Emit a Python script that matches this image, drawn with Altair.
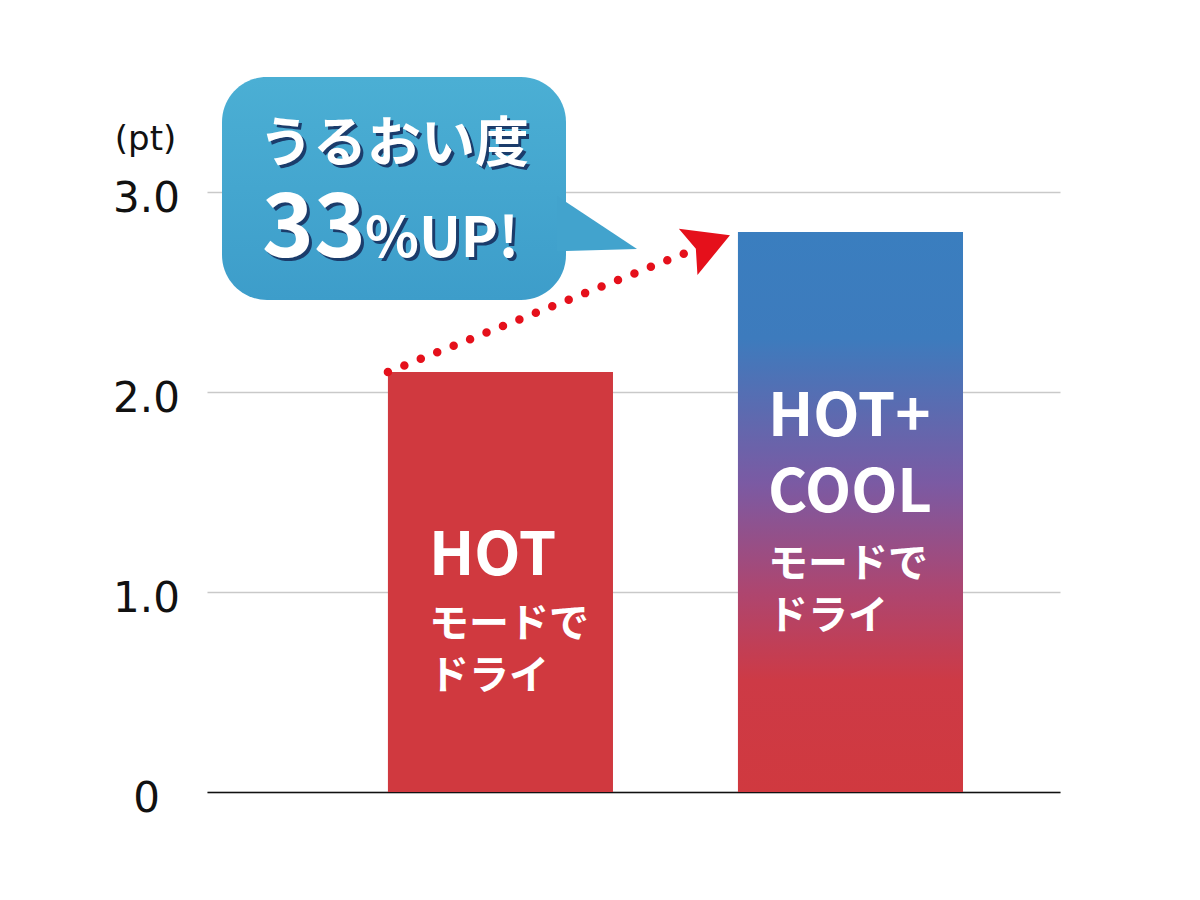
import altair as alt
import pandas as pd

# ---- data ----
categories = ["HOT", "HOT+COOL"]
values = [2.1, 2.8]
name_labels = ["HOT", "HOT+\nCOOL"]
mode_labels = ["モードで\nドライ", "モードで\nドライ"]
y_ticks = [0, 1, 2, 3]
unit_label = "(pt)"
callout_line1 = "うるおい度"
callout_number = "33"
callout_suffix = "%UP!"

df = pd.DataFrame({"cat": categories, "value": values,
                   "name": name_labels, "mode": mode_labels})

# ---- styles ----
FONT_JP = "Noto Sans CJK JP"
FONT_AXIS = "DejaVu Sans"
RED = "#d0393f"
ARROW_RED = "#e5101b"
SHADOW = "#1b3c6b"

bar_grad = alt.Gradient(
    gradient="linear", x1=0, x2=0, y1=0, y2=1,
    stops=[
        alt.GradientStop(color="#3a7ebf", offset=0.0),
        alt.GradientStop(color="#3d7bbd", offset=0.19),
        alt.GradientStop(color="#7b5aa3", offset=0.45),
        alt.GradientStop(color="#ad4670", offset=0.64),
        alt.GradientStop(color="#cd3a46", offset=0.80),
        alt.GradientStop(color=RED, offset=1.0),
    ],
)
bubble_grad = alt.Gradient(
    gradient="linear", x1=0, x2=0, y1=0, y2=1,
    stops=[
        alt.GradientStop(color="#4bafd4", offset=0.0),
        alt.GradientStop(color="#3d9dca", offset=1.0),
    ],
)

x_scale = alt.Scale(domain=categories, paddingInner=0.357,
                    paddingOuter=0.397, align=0.651)
x_axis = alt.Axis(labels=False, ticks=False, title=None, domain=True,
                  domainColor="#111111", domainWidth=1.5, grid=False)
x_bar = alt.X("cat:N", scale=x_scale, sort=categories, axis=x_axis)
x_left = alt.X("cat:N", bandPosition=0, sort=categories)

y_axis = alt.Axis(
    values=y_ticks,
    labelExpr="datum.value == 0 ? '0' : format(datum.value, '.1f')",
    labelFont=FONT_AXIS, labelFontSize=42, labelColor="#111111",
    labelAlign="center", labelBaseline="middle", labelPadding=61,
    labelOffset=6, labelFlush=False, labelOverlap=False,
    ticks=False, tickSize=0, domain=False,
    grid=True, gridColor="#c9c9c9", gridWidth=1.5,
    title=unit_label, titleAngle=0, titleX=-62, titleY=-43,
    titleAlign="center", titleBaseline="alphabetic",
    titleFont=FONT_AXIS, titleFontSize=34, titleFontWeight="normal",
    titleColor="#111111",
)
y_enc = alt.Y("value:Q", scale=alt.Scale(domain=[0, 3], nice=False),
              axis=y_axis)

base = alt.Chart(df)
one = alt.Data(values=[{"a": 1}])

hot_bar = base.transform_filter(alt.datum.cat == "HOT").mark_bar(
    color=RED).encode(x=x_bar, y=y_enc)
cool_bar = base.transform_filter(alt.datum.cat == "HOT+COOL").mark_bar(
    color=bar_grad).encode(x=x_bar, y=y_enc)

dash = [0, 17.7] * 18 + [0, 1000]
dots = base.mark_line(color=ARROW_RED, strokeWidth=8.5, strokeCap="round",
                      strokeDash=dash).encode(x=x_left, y="value:Q")

arrow_path = "M-8,3.2L-59.1,-3.3L-42.1,16.8L-40.5,43.1Z"
head = base.transform_filter(alt.datum.cat == "HOT+COOL").mark_point(
    shape=arrow_path, size=4, filled=True, color=ARROW_RED, opacity=1,
    strokeWidth=0).encode(x=x_left, y="value:Q")

def bar_text(cat, field, size, dx, dy, lh):
    return base.transform_filter(alt.datum.cat == cat).mark_text(
        align="left", baseline="alphabetic", dx=dx, dy=dy, font=FONT_JP,
        fontSize=size, fontWeight="bold", color="white", lineBreak="\n",
        lineHeight=lh).encode(x=x_left, y="value:Q", text=f"{field}:N")

t1 = bar_text("HOT", "name", 60, 41, 203, 76)
t2 = bar_text("HOT", "mode", 40, 41, 265, 52)
t3 = bar_text("HOT+COOL", "name", 60, 30, 204, 76)
t4 = bar_text("HOT+COOL", "mode", 40, 30, 345, 52)

bubble = alt.Chart(one).mark_rect(cornerRadius=45, fill=bubble_grad).encode(
    x=alt.value(15), x2=alt.value(359), y=alt.value(-115), y2=alt.value(108))
tail = alt.Chart(one).mark_point(
    shape="M350,4L430,57L350,59.3Z", size=4, filled=True, color="#42a3cd",
    opacity=1, strokeWidth=0).encode(x=alt.value(0), y=alt.value(0))

def callout_text(txt, size, x, y):
    sh = alt.Chart(one).mark_text(
        align="left", baseline="alphabetic", font=FONT_JP, fontSize=size,
        fontWeight="bold", color=SHADOW).encode(
        x=alt.value(x + 3), y=alt.value(y + 3), text=alt.value(txt))
    fg = alt.Chart(one).mark_text(
        align="left", baseline="alphabetic", font=FONT_JP, fontSize=size,
        fontWeight="bold", color="white").encode(
        x=alt.value(x), y=alt.value(y), text=alt.value(txt))
    return [sh, fg]

c_layers = (callout_text(callout_line1, 54, 52, -30)
            + callout_text(callout_number, 88, 55, 65)
            + callout_text(callout_suffix, 56, 158, 65))

chart = alt.layer(
    bubble, tail, hot_bar, cool_bar, t1, t2, t3, t4, dots, head, *c_layers
).properties(
    width=853, height=600,
    autosize=alt.AutoSizeParams(type="none"),
    padding={"left": 199, "top": 184, "right": 120, "bottom": 60},
    background="white",
).configure_view(stroke="transparent")

chart.save("out.html", embed_options={"renderer": "svg", "actions": False})
